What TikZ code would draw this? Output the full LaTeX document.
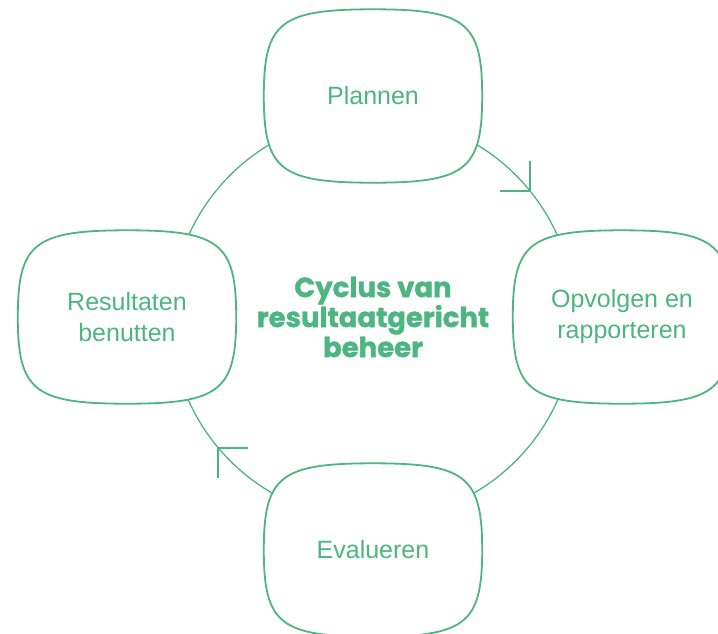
\documentclass[tikz,border=0pt]{standalone}
\usepackage{fontspec}
\setmainfont{Liberation Sans}
\newfontfamily\titlefont[BoldFeatures={FakeBold=1.3}]{Poppins}
\usetikzlibrary{calc}
\definecolor{gr}{RGB}{76,181,128}
\pgfdeclarelayer{background}
\pgfsetlayers{background,main}
\tikzset{
  lbl/.style={text=gr, font=\fontsize{25}{31}\selectfont, align=center, minimum width=218pt, minimum height=173pt, inner sep=0pt},
  ttl/.style={text=gr, font=\titlefont\bfseries\fontsize{27.5}{30}\selectfont, align=center},
  boxline/.style={draw=gr, line width=1.8pt, fill=white},
  ring/.style={draw=gr, line width=1.3pt},
  tipline/.style={draw=gr, line width=1.3pt}
}
\newcommand{\squircle}[1]{%
  \path[boxline] (#1.west)
    .. controls ($(#1.west)!0.85!(#1.north west)$) and ($(#1.north)!0.85!(#1.north west)$) .. (#1.north)
    .. controls ($(#1.north)!0.85!(#1.north east)$) and ($(#1.east)!0.85!(#1.north east)$) .. (#1.east)
    .. controls ($(#1.east)!0.85!(#1.south east)$) and ($(#1.south)!0.85!(#1.south east)$) .. (#1.south)
    .. controls ($(#1.south)!0.85!(#1.south west)$) and ($(#1.west)!0.85!(#1.south west)$) .. (#1.west) -- cycle;}
\begin{document}
\begin{tikzpicture}[x=1pt,y=-1pt]
\useasboundingbox (0,0) rectangle (718,633);
\node[ttl] (title) at (373,317) {Cyclus van\\resultaatgericht\\beheer};
\node[lbl] (plan) at (373,96) {Plannen};
\node[lbl] (opv) at (622,317) {Opvolgen en\\rapporteren};
\node[lbl] (eval) at (373,550) {Evalueren};
\node[lbl] (res) at (127,317) {Resultaten\\benutten};
\coordinate (ctr) at (373,318);
\coordinate (tipA) at (530,191);
\coordinate (tipB) at (218,448);
\begin{pgfonlayer}{background}
  \path[ring] (ctr) circle (202pt);
  \squircle{plan}
  \squircle{opv}
  \squircle{eval}
  \squircle{res}
\end{pgfonlayer}
\path[tipline] ([xshift=-30pt]tipA) -- (tipA) -- ([yshift=30pt]tipA);
\path[tipline] ([xshift=30pt]tipB) -- (tipB) -- ([yshift=-30pt]tipB);
\end{tikzpicture}
\end{document}
